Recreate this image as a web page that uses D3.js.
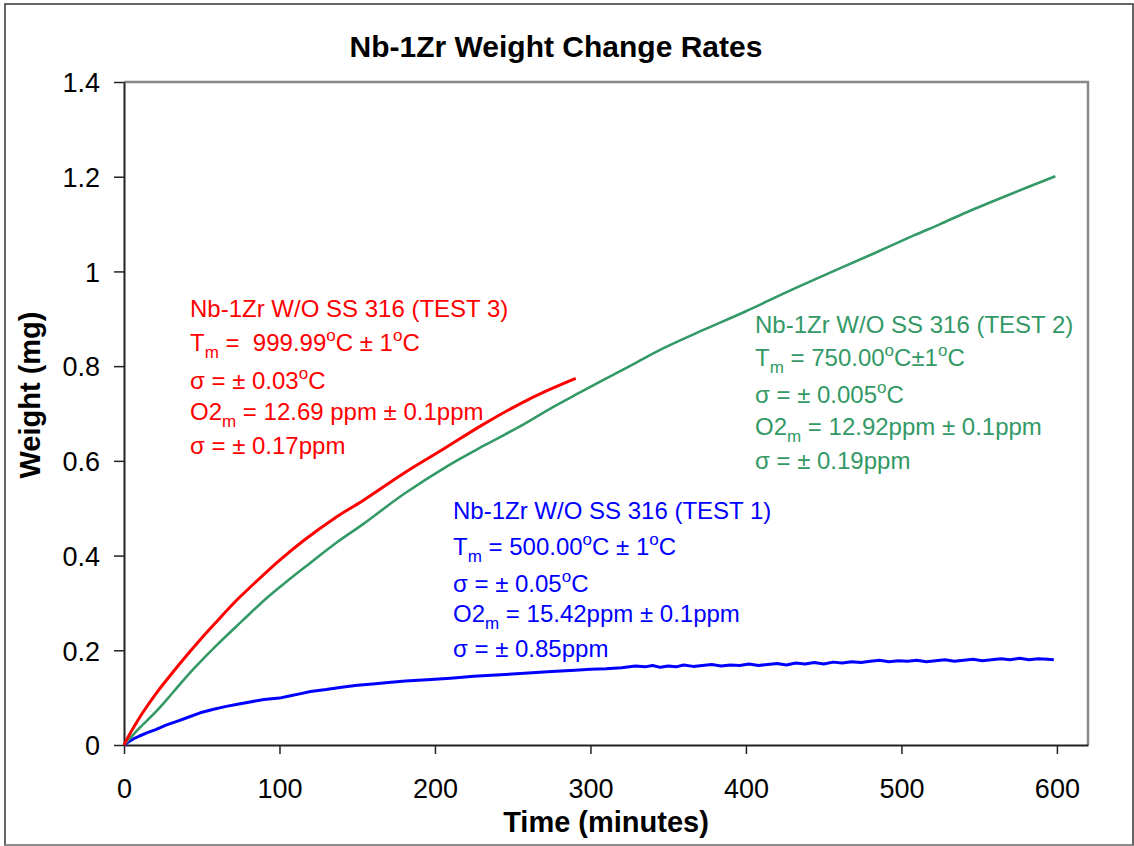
<!DOCTYPE html>
<html><head><meta charset="utf-8">
<script src="https://cdn.jsdelivr.net/npm/d3@7"></script>
<style>body{margin:0;background:#fff}svg{display:block;font-family:"Liberation Sans",Arial,sans-serif}</style>
</head><body><svg id="c" width="1134" height="846"></svg>
<script>
const xTicks = [0,100,200,300,400,500,600];
const yTicks = [0,0.2,0.4,0.6,0.8,1.0,1.2,1.4];

const redTime = [0,2,4,8,12,20,31,40,50,60,71,85,100,116,135,154,180,206,230,255,270,290.5];
const redVal  = [0,0.013,0.025,0.047,0.068,0.106,0.152,0.188,0.226,0.262,0.301,0.345,0.39,0.433,0.478,0.517,0.574,0.626,0.675,0.721,0.745,0.774];

const greenTime = [0,3,6,10,21,32,44,60,76,92,106,120,137,154,180,208,232,257,275,293,309,328,347,373,400,430,460,485,508,525,542,570,599];
const greenVal  = [0,0.011,0.022,0.036,0.072,0.113,0.158,0.212,0.262,0.311,0.349,0.385,0.428,0.467,0.53,0.589,0.633,0.677,0.712,0.744,0.772,0.805,0.838,0.877,0.916,0.962,1.006,1.042,1.076,1.1,1.125,1.163,1.201];

const blueTime = [0,3,6,10,15,20,27,34,40,49,57,65,73,81,90,100,107,113,120,130,140,150,160,170,181,195,210,225,245,260,275,290,300,310,320,329,335,340,345,350,355,360,366,372,378,384,390,396,402,408,414,420,426,432,438,444,450,456,462,468,474,480,486,492,498,504,510,516,522,528,534,540,546,552,558,564,570,576,582,588,594,598];
const blueVal  = [0,0.007,0.013,0.019,0.026,0.032,0.042,0.05,0.057,0.068,0.075,0.081,0.086,0.091,0.096,0.099,0.104,0.108,0.113,0.117,0.122,0.126,0.129,0.132,0.135,0.138,0.141,0.145,0.149,0.152,0.155,0.158,0.160,0.161,0.163,0.167,0.165,0.168,0.164,0.167,0.165,0.169,0.166,0.168,0.170,0.167,0.169,0.168,0.171,0.168,0.170,0.172,0.169,0.173,0.171,0.174,0.171,0.175,0.173,0.176,0.174,0.177,0.179,0.176,0.178,0.177,0.179,0.176,0.178,0.180,0.177,0.179,0.181,0.178,0.180,0.182,0.180,0.183,0.180,0.182,0.181,0.180];

const series = [
  {name:"TEST 1", time: blueTime, val: blueVal, color:"#0000ff", w:3, curve: d3.curveLinear},
  {name:"TEST 2", time: greenTime, val: greenVal, color:"#339966", w:2.6, curve: d3.curveCatmullRom.alpha(0.5)},
  {name:"TEST 3", time: redTime, val: redVal, color:"#ff0000", w:3, curve: d3.curveCatmullRom.alpha(0.5)}
];

const svg = d3.select("#c");
const L=124, R=1088, T=82, B=745;
const x = d3.scaleLinear().domain([0,620]).range([L,R]);
const y = d3.scaleLinear().domain([0,1.4]).range([B,T]);

svg.append("rect").attr("x",5).attr("y",4).attr("width",1128).attr("height",841)
  .attr("fill","#fff").attr("stroke","#333").attr("stroke-width",1.5);
svg.append("line").attr("x1",5).attr("x2",1133).attr("y1",845).attr("y2",845).attr("stroke","#999").attr("stroke-width",1.5);

svg.append("path").attr("d",`M${L},${T}H${R}V${B}`).attr("fill","none").attr("stroke","#888").attr("stroke-width",2.5);

const fmt = d => String(+d.toFixed(1));
const gx = svg.append("g").attr("transform",`translate(0,${B})`)
  .call(d3.axisBottom(x).tickValues(xTicks).tickSize(9).tickSizeOuter(0).tickFormat(d3.format("d")));
const gy = svg.append("g").attr("transform",`translate(${L},0)`)
  .call(d3.axisLeft(y).tickValues(yTicks).tickSize(10).tickSizeOuter(0).tickFormat(fmt));
[gx,gy].forEach(g=>{
  g.select(".domain").attr("stroke","#222").attr("stroke-width",2);
  g.selectAll(".tick line").attr("stroke","#222").attr("stroke-width",1.5);
  g.selectAll(".tick text").attr("font-size",27).attr("fill","#000").attr("font-family","Liberation Sans, Arial, sans-serif");
});
gx.selectAll(".tick text").attr("dy",0).attr("y",53);
gy.selectAll(".tick text").attr("x",-24).attr("dy","0.36em");

series.forEach(s=>{
  const line = d3.line().x(d=>x(d[0])).y(d=>y(d[1])).curve(s.curve);
  const pts = s.time.map((t,i)=>[t,s.val[i]]);
  svg.append("path").datum(pts).attr("d",line).attr("fill","none")
    .attr("stroke",s.color).attr("stroke-width",s.w).attr("stroke-linejoin","round");
});

svg.append("text").attr("x",556).attr("y",57).attr("text-anchor","middle")
  .attr("font-size",30).attr("font-weight","bold").text("Nb-1Zr Weight Change Rates");
svg.append("text").attr("x",606).attr("y",832).attr("text-anchor","middle")
  .attr("font-size",29).attr("font-weight","bold").text("Time (minutes)");
svg.append("text").attr("transform","translate(40,395) rotate(-90)").attr("text-anchor","middle")
  .attr("font-size",29).attr("font-weight","bold").text("Weight (mg)");

function annot(x0, baselines, color, lines){
  const g = svg.append("g").attr("fill",color).attr("font-size",24);
  lines.forEach((parts,i)=>{
    const t = g.append("text").attr("x",x0).attr("y",baselines[i]).style("white-space","pre");
    parts.forEach(p=>{
      const ts = t.append("tspan").text(p[0]);
      if(p[1]==="sub") ts.attr("font-size",17).attr("dy",7);
      else if(p[1]==="sup") ts.attr("font-size",17).attr("dy",-10);
      if(p[2]) ts.attr("dy",p[2]);
    });
  });
}

annot(190,[317,351,389,420,454],"#ff0000",[
  [["Nb-1Zr W/O SS 316 (TEST 3)"]],
  [["T"],["m","sub"],[" =\u00a0 999.99",null,-7],["o","sup"],["C ± 1",null,10],["o","sup"],["C",null,10]],
  [["σ = ± 0.03"],["o","sup"],["C",null,10]],
  [["O2"],["m","sub"],[" = 12.69 ppm ± 0.1ppm",null,-7]],
  [["σ = ± 0.17ppm"]]
]);
annot(755,[333,366,403,435,469],"#339966",[
  [["Nb-1Zr W/O SS 316 (TEST 2)"]],
  [["T"],["m","sub"],[" = 750.00",null,-7],["o","sup"],["C±1",null,10],["o","sup"],["C",null,10]],
  [["σ = ± 0.005"],["o","sup"],["C",null,10]],
  [["O2"],["m","sub"],[" = 12.92ppm ± 0.1ppm",null,-7]],
  [["σ = ± 0.19ppm"]]
]);
annot(453,[519,555,592,622,657],"#0000ff",[
  [["Nb-1Zr W/O SS 316 (TEST 1)"]],
  [["T"],["m","sub"],[" = 500.00",null,-7],["o","sup"],["C ± 1",null,10],["o","sup"],["C",null,10]],
  [["σ = ± 0.05"],["o","sup"],["C",null,10]],
  [["O2"],["m","sub"],[" = 15.42ppm ± 0.1ppm",null,-7]],
  [["σ = ± 0.85ppm"]]
]);
</script></body></html>
